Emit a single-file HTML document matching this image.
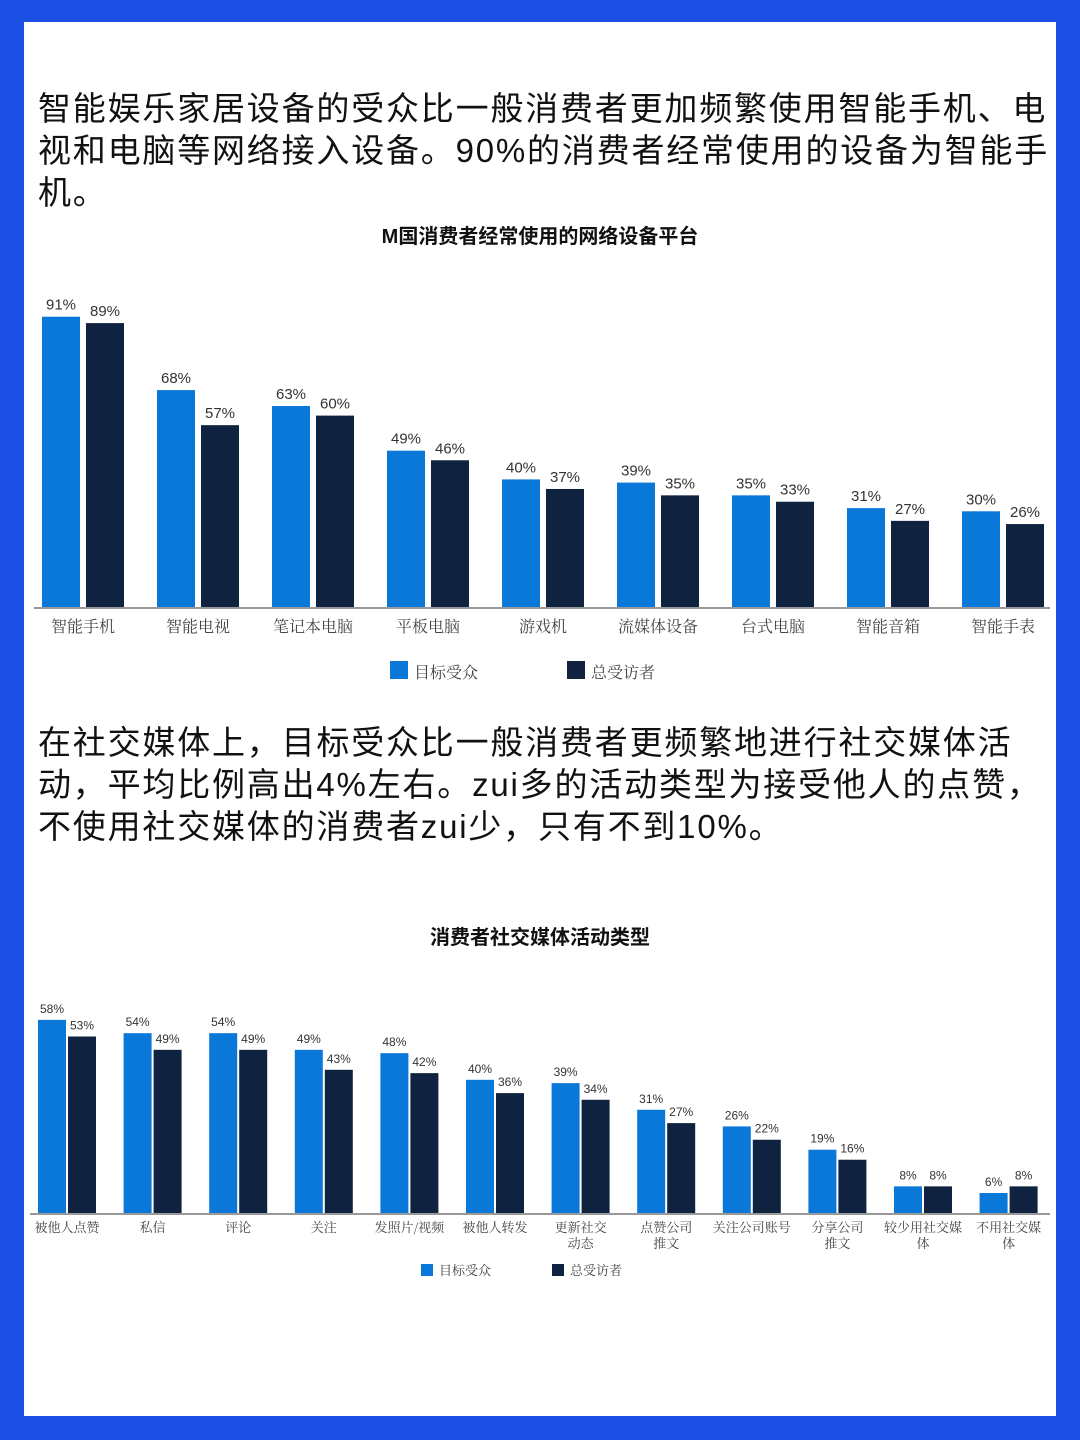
<!DOCTYPE html>
<html><head><meta charset="utf-8">
<style>
body{margin:0;width:1080px;height:1440px;background:#1c4fe3;position:relative;overflow:hidden;font-family:"Liberation Sans","Noto Sans CJK SC",sans-serif}
#card{position:absolute;left:24px;top:22px;width:1032px;height:1394px;background:#fff}
.p{position:absolute;left:14px;width:1014px;font-size:33px;line-height:42px;color:#111;letter-spacing:1.8px}
svg{position:absolute;left:0;top:0}
</style></head><body>
<div id="card">
<div class="p" style="top:66px">智能娱乐家居设备的受众比一般消费者更加频繁使用智能手机、电视和电脑等网络接入设备。90%的消费者经常使用的设备为智能手机。</div>
<div class="p" style="top:700px">在社交媒体上，目标受众比一般消费者更频繁地进行社交媒体活动，平均比例高出4%左右。zui多的活动类型为接受他人的点赞，不使用社交媒体的消费者zui少，只有不到10%。</div>
</div>
<svg id="chart" width="1080" height="1440"></svg>
<script>
const cats1=["智能手机","智能电视","笔记本电脑","平板电脑","游戏机","流媒体设备","台式电脑","智能音箱","智能手表"];
const target1=[91,68,63,49,40,39,35,31,30];
const total1=[89,57,60,46,37,35,33,27,26];
const cats2=["被他人点赞","私信","评论","关注","发照片/视频","被他人转发","更新社交|动态","点赞公司|推文","关注公司账号","分享公司|推文","较少用社交媒|体","不用社交媒|体"];
const target2=[58,54,54,49,48,40,39,31,26,19,8,6];
const total2=[53,49,49,43,42,36,34,27,22,16,8,8];
const NS="http://www.w3.org/2000/svg";
const svg=document.getElementById('chart');
function mk(t,a,txt){const e=document.createElementNS(NS,t);for(const k in a)e.setAttribute(k,a[k]);if(txt!==undefined)e.textContent=txt;svg.appendChild(e);return e;}
const BLUE="#0a78d8",DARK="#0f2340";
function title(x,y,s){const e=mk('text',{x:x,y:y,'text-anchor':'middle','font-size':20,'font-weight':'bold',fill:'#111'},s);

}
title(540,243,"M国消费者经常使用的网络设备平台");
title(540,944,"消费者社交媒体活动类型");
function chart(cats,t,tot,o){
  const y=v=>o.base-v*o.scale;
  mk('line',{x1:o.x0-8,x2:1050,y1:o.base+1,y2:o.base+1,stroke:'#999','stroke-width':2});
  cats.forEach((c,i)=>{
    const gx=o.x0+i*o.step;
    let r=mk('rect',{x:gx,y:y(t[i]),width:o.bw,height:o.base-y(t[i]),fill:BLUE});
    
    
    r=mk('rect',{x:gx+o.gap,y:y(tot[i]),width:o.bw,height:o.base-y(tot[i]),fill:DARK});
    
    
    mk('text',{x:gx+o.bw/2,y:y(t[i])-7,'text-anchor':'middle','font-size':o.fs,fill:'#333'},t[i]+'%');
    mk('text',{x:gx+o.gap+o.bw/2,y:y(tot[i])-7,'text-anchor':'middle','font-size':o.fs,fill:'#333'},tot[i]+'%');
    const lines=c.split('|');
    lines.forEach((l,k)=>{const e=mk('text',{x:gx+o.gap/2+o.bw/2,y:o.base+o.ly+k*(o.lfs+3),'text-anchor':'middle','font-size':o.lfs,fill:'#444','font-family':'"Noto Serif CJK SC",serif'},l);
      
      });
  });
  mk('rect',{x:o.lx,y:o.lyy,width:o.lsz,height:o.lsz,fill:BLUE});
  mk('text',{x:o.lx+o.lsz+6,y:o.lyy+o.lsz-1,'font-size':o.lfs,fill:'#444','font-family':'"Noto Serif CJK SC",serif'},'目标受众');
  mk('rect',{x:o.lx2,y:o.lyy,width:o.lsz,height:o.lsz,fill:DARK});
  mk('text',{x:o.lx2+o.lsz+6,y:o.lyy+o.lsz-1,'font-size':o.lfs,fill:'#444','font-family':'"Noto Serif CJK SC",serif'},'总受访者');
}
chart(cats1,target1,total1,{x0:42,step:115,bw:38,gap:44,base:607,scale:3.19,fs:15,lfs:16,ly:25,lx:390,lx2:567,lyy:661,lsz:18});
chart(cats2,target2,total2,{x0:38,step:85.6,bw:28,gap:30,base:1213,scale:3.33,fs:12,lfs:13,ly:19,lx:421,lx2:552,lyy:1264,lsz:12});
</script>
</body></html>
